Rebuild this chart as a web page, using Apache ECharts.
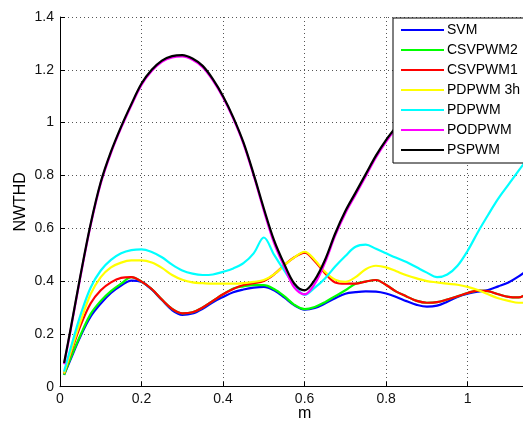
<!DOCTYPE html>
<html>
<head>
<meta charset="utf-8">
<script src="https://cdn.jsdelivr.net/npm/echarts@6/dist/echarts.min.js"></script>
<style>
html,body{margin:0;padding:0;background:#fff;}
#c{width:523px;height:423px;}
</style>
</head>
<body>
<div id="c"></div>
<script>
const m = [0.01,0.025,0.05,0.075,0.1,0.125,0.15,0.175,0.2,0.225,0.25,0.275,0.3,0.325,0.35,0.375,0.4,0.425,0.45,0.475,0.5,0.525,0.55,0.575,0.6,0.625,0.65,0.675,0.7,0.725,0.75,0.775,0.8,0.825,0.85,0.875,0.9,0.925,0.95,0.975,1.0,1.025,1.05,1.075,1.1,1.125,1.15];

const svm = [0.045,0.10,0.19,0.265,0.315,0.355,0.383,0.402,0.397,0.368,0.328,0.29,0.272,0.277,0.295,0.32,0.34,0.358,0.368,0.375,0.378,0.365,0.338,0.308,0.292,0.298,0.315,0.335,0.352,0.358,0.361,0.36,0.353,0.34,0.324,0.31,0.303,0.307,0.322,0.34,0.352,0.36,0.366,0.38,0.395,0.418,0.445];

const csvpwm2 = [0.045,0.105,0.195,0.275,0.325,0.362,0.39,0.415,0.398,0.37,0.33,0.295,0.278,0.282,0.30,0.325,0.35,0.372,0.38,0.385,0.385,0.37,0.343,0.31,0.294,0.302,0.32,0.343,0.365,0.39,0.398,0.404,0.385,0.36,0.342,0.325,0.318,0.32,0.33,0.342,0.355,0.364,0.362,0.35,0.34,0.338,0.36];

const csvpwm1 = [0.05,0.12,0.23,0.315,0.365,0.395,0.412,0.415,0.398,0.37,0.33,0.295,0.278,0.282,0.30,0.325,0.35,0.37,0.385,0.392,0.40,0.425,0.46,0.49,0.508,0.475,0.43,0.395,0.39,0.39,0.398,0.404,0.385,0.36,0.342,0.325,0.318,0.32,0.33,0.342,0.355,0.364,0.362,0.35,0.34,0.338,0.36];

const pdpwm3h = [0.05,0.125,0.245,0.35,0.415,0.452,0.47,0.478,0.478,0.47,0.45,0.423,0.405,0.395,0.392,0.39,0.39,0.39,0.392,0.397,0.404,0.425,0.46,0.49,0.511,0.48,0.435,0.405,0.397,0.415,0.445,0.458,0.452,0.437,0.422,0.41,0.40,0.395,0.39,0.386,0.378,0.366,0.35,0.335,0.325,0.318,0.318];

const pdpwm = [0.057,0.14,0.27,0.375,0.44,0.48,0.505,0.517,0.52,0.51,0.49,0.462,0.44,0.428,0.423,0.425,0.435,0.448,0.468,0.505,0.565,0.50,0.44,0.385,0.348,0.375,0.41,0.455,0.495,0.53,0.538,0.522,0.505,0.488,0.472,0.452,0.432,0.415,0.425,0.458,0.515,0.585,0.65,0.712,0.765,0.818,0.87];

const podpwm = [0.085,0.205,0.415,0.61,0.77,0.885,0.98,1.065,1.143,1.195,1.23,1.247,1.251,1.238,1.21,1.16,1.095,1.015,0.92,0.8,0.667,0.545,0.455,0.375,0.35,0.39,0.47,0.572,0.657,0.727,0.797,0.868,0.928,0.98,1.025,1.065,1.105,1.145,1.175,1.205,1.235,1.255,1.275,1.295,1.315,1.325,1.335];

const pspwm = [0.09,0.21,0.42,0.615,0.775,0.89,0.985,1.07,1.148,1.2,1.235,1.252,1.256,1.243,1.215,1.165,1.10,1.02,0.925,0.805,0.675,0.555,0.465,0.39,0.365,0.405,0.48,0.58,0.665,0.735,0.805,0.875,0.935,0.985,1.03,1.07,1.11,1.15,1.18,1.21,1.24,1.26,1.28,1.3,1.32,1.33,1.34];

const seriesNames = ['SVM','CSVPWM2','CSVPWM1','PDPWM 3h','PDPWM','PODPWM','PSPWM'];
const seriesColors = ['#0000ff','#00ff00','#ff0000','#ffff00','#00ffff','#ff00ff','#000000'];
const seriesValues = [svm, csvpwm2, csvpwm1, pdpwm3h, pdpwm, podpwm, pspwm];

const xTicks = [0,0.2,0.4,0.6,0.8,1,1.2];
const yTicks = [0,0.2,0.4,0.6,0.8,1,1.2,1.4];

const FONT = 'Liberation Sans, Arial, Helvetica, sans-serif';
const chart = echarts.init(document.getElementById('c'), null, {renderer:'canvas'});

const gridLine = {show:true, lineStyle:{color:'#555', width:1, type:[1,3]}};

chart.setOption({
  animation:false,
  backgroundColor:'#fff',
  grid:{left:60, top:17, bottom:36.3, right:-26.2, containLabel:false, outerBoundsMode:'none'},
  xAxis:{
    type:'value', min:xTicks[0], max:xTicks[xTicks.length-1], interval:0.2,
    name:'m', nameLocation:'middle', nameGap:19, nameMoveOverlap:false,
    nameTextStyle:{fontFamily:FONT, fontSize:16, color:'#000', verticalAlign:'top'},
    axisLine:{show:true, onZero:false, lineStyle:{color:'#000', width:1}},
    axisTick:{show:true, inside:true, length:5, lineStyle:{color:'#000'}},
    axisLabel:{fontFamily:FONT, fontSize:14, color:'#111', margin:5},
    splitLine:gridLine
  },
  yAxis:{
    type:'value', min:yTicks[0], max:yTicks[yTicks.length-1], interval:0.2,
    name:'NWTHD', nameLocation:'middle', nameGap:31.5, nameMoveOverlap:false,
    nameTextStyle:{fontFamily:FONT, fontSize:16, color:'#000'},
    axisLine:{show:true, onZero:false, lineStyle:{color:'#000', width:1}},
    axisTick:{show:true, inside:true, length:5, lineStyle:{color:'#000'}},
    axisLabel:{fontFamily:FONT, fontSize:14, color:'#111', margin:6},
    splitLine:gridLine
  },
  legend:{
    orient:'vertical', left:393, top:18,
    itemWidth:43, itemHeight:14, itemGap:6,
    padding:[5,14,6,8],
    backgroundColor:'#fff', borderColor:'#000', borderWidth:1,
    textStyle:{fontFamily:FONT, fontSize:14, color:'#000', padding:[0,0,0,-2]},
    data:seriesNames.map(n=>({name:n, icon:'path://M0,0 L43,0 L43,2 L0,2 Z'})),
    itemStyle:{borderWidth:0},
    z:10
  },
  series:seriesNames.map((n,i)=>({
    name:n, type:'line', smooth:0.35, symbol:'none', showSymbol:false,
    color:seriesColors[i],
    lineStyle:{color:seriesColors[i], width:2.2},
    data:m.map((x,j)=>[x, seriesValues[i][j]]),
    z:2+i
  }))
});
</script>
</body>
</html>
